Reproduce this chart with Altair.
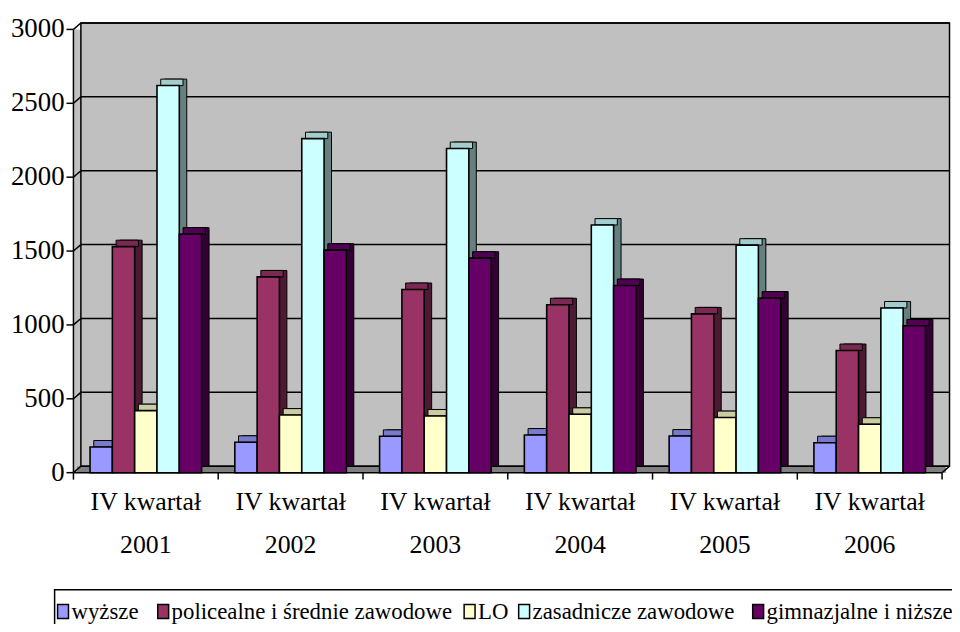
import altair as alt
import pandas as pd

years = ["2001", "2002", "2003", "2004", "2005", "2006"]
quarter = "IV kwartał"
series = ["wyższe", "policealne i średnie zawodowe", "LO", "zasadnicze zawodowe", "gimnazjalne i niższe"]
wyzsze = [174, 206, 246, 255, 248, 203]
policealne = [1530, 1325, 1240, 1137, 1075, 827]
lo = [420, 390, 384, 395, 373, 328]
zasadnicze = [2620, 2261, 2194, 1676, 1540, 1115]
gimnazjalne = [1615, 1506, 1452, 1267, 1182, 994]
y_ticks = [0, 500, 1000, 1500, 2000, 2500, 3000]

front_colors = ["#9999FF", "#993366", "#FFFFCC", "#CCFFFF", "#660066"]
top_colors = ["#7A7ACC", "#7A2952", "#CCCCA3", "#A3CCCC", "#520052"]
side_colors = ["#4D4D80", "#4D1A33", "#808066", "#668080", "#330033"]

FONT = "Liberation Serif, Times New Roman, serif"
W, H = 876, 447
STEP = W / len(years)
DX, DY = 7.5, 6.5
# legend layout (pixel offsets of each legend entry's symbol from the plot's left edge)
LEGEND_SYMBOL_X = [-16, 85, 394, 449, 685]
LEGEND_Y = 587

rows = []
for s_i, (name, vals) in enumerate(zip(series, [wyzsze, policealne, lo, zasadnicze, gimnazjalne])):
    for y_i, yr in enumerate(years):
        rows.append({"year": yr, "series": name, "value": vals[y_i],
                     "top": top_colors[s_i], "side": side_colors[s_i]})
df = pd.DataFrame(rows)
ticks_df = pd.DataFrame({"v": y_ticks})
years_df = pd.DataFrame({"year": years})
one = pd.DataFrame({"a": [0]})

x_scale = alt.Scale(domain=years, paddingInner=0, paddingOuter=0)
y_scale = alt.Scale(domain=[0, 3000], nice=False, zero=True)
color_scale = alt.Scale(domain=series, range=front_colors)
X = alt.X("year:N", scale=x_scale, axis=None)


def xoff(shift):
    return alt.XOffset("series:N", sort=series,
                       scale=alt.Scale(domain=series, paddingInner=0, paddingOuter=0.744,
                                       range=[shift, STEP + shift]))


back_wall = alt.Chart(one).mark_rect(fill="#C0C0C0", stroke="black", strokeWidth=1.5).encode(
    x=alt.value(DX), x2=alt.value(W + DX), y=alt.value(-DY), y2=alt.value(H - DY))
floor = alt.Chart(one).mark_rect(fill="#808080").encode(
    x=alt.value(DX / 2), x2=alt.value(W + DX / 2), y=alt.value(H - DY), y2=alt.value(H))
floor_edge = alt.Chart(one).mark_rule(color="black", strokeWidth=1.5).encode(
    x=alt.value(W), x2=alt.value(W + DX), y=alt.value(H), y2=alt.value(H - DY))
grid = alt.Chart(ticks_df).mark_rule(color="black", strokeWidth=1.5, yOffset=-DY).encode(
    y=alt.Y("v:Q", scale=y_scale, axis=None), x=alt.value(DX), x2=alt.value(W + DX))
side_grid = alt.Chart(ticks_df).mark_rule(color="black", strokeWidth=1.5, y2Offset=-DY).encode(
    y=alt.Y("v:Q", scale=y_scale, axis=None), y2="v:Q", x=alt.value(0), x2=alt.value(DX))

base = alt.Chart(df).encode(x=X, y=alt.Y("value:Q", scale=y_scale, axis=None))
shadow = base.mark_bar(yOffset=-DY, y2Offset=-DY, stroke="black", strokeWidth=1).encode(
    xOffset=xoff(DX), fill=alt.Fill("side:N", scale=None))
topface = base.mark_bar(y2Offset=-DY, stroke="black", strokeWidth=1).encode(
    xOffset=xoff(DX / 2), y2="value:Q", fill=alt.Fill("top:N", scale=None))
front = base.mark_bar(stroke="black", strokeWidth=1.6).encode(
    xOffset=xoff(0), color=alt.Color("series:N", scale=color_scale, legend=None))

# axes drawn as marks
y_domain = alt.Chart(one).mark_rule(color="black", strokeWidth=1.5).encode(
    x=alt.value(0), y=alt.value(0), y2=alt.value(H))
x_domain = alt.Chart(one).mark_rule(color="black", strokeWidth=1.5).encode(
    x=alt.value(0), x2=alt.value(W), y=alt.value(H))
y_tick_marks = alt.Chart(ticks_df).mark_rule(color="black", strokeWidth=1.5).encode(
    y=alt.Y("v:Q", scale=y_scale, axis=None), x=alt.value(-7), x2=alt.value(0))
y_labels = alt.Chart(ticks_df).mark_text(align="right", baseline="middle", font=FONT,
                                         fontSize=27, color="black").encode(
    y=alt.Y("v:Q", scale=y_scale, axis=None), x=alt.value(-9), text="v:Q")
xticks = alt.Chart(years_df).mark_rule(color="black", strokeWidth=1.5).encode(
    x=alt.X("year:N", scale=x_scale, bandPosition=0, axis=None), y=alt.value(H), y2=alt.value(H + 7))
xtick_end = alt.Chart(one).mark_rule(color="black", strokeWidth=1.5).encode(
    x=alt.value(W), y=alt.value(H), y2=alt.value(H + 7))
x_lab1 = alt.Chart(years_df).mark_text(baseline="middle", font=FONT, fontSize=26, color="black").encode(
    x=X, y=alt.value(H + 30), text=alt.value(quarter))
x_lab2 = alt.Chart(years_df).mark_text(baseline="middle", font=FONT, fontSize=26, color="black").encode(
    x=X, y=alt.value(H + 73), text="year:N")

# legend drawn as marks
legend_box = alt.Chart(one).mark_rect(fill="white", stroke="black", strokeWidth=1.5).encode(
    x=alt.value(-19), x2=alt.value(W + 40), y=alt.value(LEGEND_Y - 22), y2=alt.value(LEGEND_Y + 60))
legend_layers = [legend_box]
for i, name in enumerate(series):
    entry = alt.Chart(pd.DataFrame({"series": [name]}))
    sx = LEGEND_SYMBOL_X[i]
    legend_layers.append(entry.mark_rect(stroke="black", strokeWidth=1.5).encode(
        x=alt.value(sx), x2=alt.value(sx + 11), y=alt.value(LEGEND_Y - 7), y2=alt.value(LEGEND_Y + 7),
        color=alt.Color("series:N", scale=color_scale, legend=None)))
    legend_layers.append(entry.mark_text(align="left", baseline="middle", font=FONT, fontSize=23,
                                         color="black").encode(
        x=alt.value(sx + 14), y=alt.value(LEGEND_Y + 1), text="series:N"))

chart = alt.layer(back_wall, floor, grid, side_grid, floor_edge, shadow, topface, front,
                  y_domain, x_domain, y_tick_marks, y_labels, xticks, xtick_end, x_lab1, x_lab2,
                  *legend_layers
                  ).resolve_scale(xOffset="independent").properties(
    width=W, height=H,
    autosize=alt.AutoSizeParams(type="none"),
    padding={"left": 66, "top": 19, "right": 10, "bottom": 150},
    background="white",
).configure_view(fill="#C0C0C0", strokeWidth=0)

chart.save("out.html", embed_options={"renderer": "svg", "actions": False})
